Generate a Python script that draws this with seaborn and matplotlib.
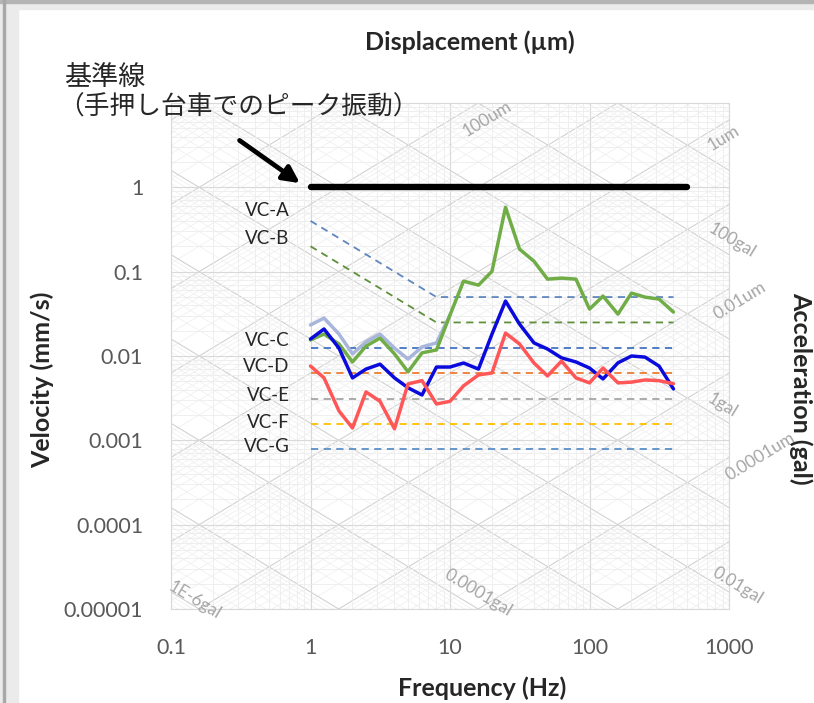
import numpy as np
import pandas as pd
import matplotlib.pyplot as plt
import seaborn as sns
from matplotlib.patches import Rectangle
from matplotlib.ticker import LogLocator, NullFormatter, FixedLocator, FixedFormatter

# 1/3 octave band centre frequencies (Hz)
freq = [1, 1.25, 1.6, 2, 2.5, 3.15, 4, 5, 6.3, 8, 10, 12.5, 16, 20, 25,
        31.5, 40, 50, 63, 80, 100, 125, 160, 200, 250, 315, 400]

# measured velocities (mm/s)
vel_green = [0.0155, 0.0182, 0.0139, 0.0085, 0.0131, 0.0163, 0.0106, 0.0065, 0.0109, 0.0118,
             0.0306, 0.0772, 0.0692, 0.101, 0.58, 0.185, 0.133, 0.0815, 0.0838, 0.0815,
             0.036, 0.0513, 0.0314, 0.0557, 0.0499, 0.0473, 0.0332]
vel_blue = [0.0159, 0.0209, 0.0124, 0.0055, 0.0070, 0.0080, 0.0055, 0.0042, 0.00345, 0.0074,
            0.0074, 0.00826, 0.0070, 0.0182, 0.0448, 0.0239, 0.0143, 0.0121, 0.0095, 0.0085,
            0.0072, 0.00535, 0.0083, 0.0100, 0.0097, 0.0076, 0.00407]
vel_red = [0.0076, 0.0055, 0.00223, 0.0014, 0.00375, 0.0029, 0.00137, 0.00467, 0.0051, 0.0027,
           0.0029, 0.00442, 0.00596, 0.0063, 0.0187, 0.0139, 0.00826, 0.0058, 0.0087, 0.0055,
           0.0048, 0.0072, 0.0048, 0.0049, 0.0052, 0.0051, 0.0047]
freq_light = [1, 1.25, 1.6, 2, 2.5, 3.15, 4, 5, 6.3, 8, 10]
vel_light = [0.0233, 0.0282, 0.0182, 0.0106, 0.0147, 0.0182, 0.0124, 0.0092, 0.0128, 0.0143, 0.0306]

# reference line (peak vibration of hand cart)
ref_freq = [1, 500]
ref_vel = [1, 1]

# VC criterion curves
vc_names = ["VC-A", "VC-B", "VC-C", "VC-D", "VC-E", "VC-F", "VC-G"]
vc_freq = [[1, 8, 400], [1, 8, 400], [1, 400], [1, 400], [1, 400], [1, 400], [1, 400]]
vc_vel = [[0.4, 0.05, 0.05], [0.2, 0.025, 0.025], [0.0125, 0.0125], [0.00625, 0.00625],
          [0.003125, 0.003125], [0.0015625, 0.0015625], [0.00078, 0.00078]]
vc_colors = ["#5F86BD", "#5E8F3C", "#4472C4", "#ED7D31", "#A5A5A5", "#FFC000", "#5B8FC9"]
vc_label_vel = [0.53, 0.25, 0.0152, 0.0075, 0.0034, 0.00163, 0.00085]

x_ticks = [0.1, 1, 10, 100, 1000]
x_ticklabels = ["0.1", "1", "10", "100", "1000"]
y_ticks = [1e-5, 1e-4, 1e-3, 1e-2, 1e-1, 1]
y_ticklabels = ["0.00001", "0.0001", "0.001", "0.01", "0.1", "1"]

# diagonal scale labels: text, frequency, velocity of label centre
disp_labels = [("100um", 18.4, 6.58), ("1um", 920, 3.81), ("0.01um", 1199, 0.0457),
               ("0.0001um", 1667, 6.45e-4)]
acc_labels = [("100gal", 1051, 0.235), ("1gal", 891, 0.00259), ("0.01gal", 1161, 1.9e-5),
              ("0.0001gal", 15.9, 1.57e-5), ("1E-6gal", 0.1486, 1.26e-5)]

sns.set_style("white")
plt.rcParams["font.family"] = ["Lato", "Noto Sans CJK JP", "DejaVu Sans"]

fig = plt.figure(figsize=(8.14, 7.03), dpi=100)
ax = fig.add_axes([171 / 814, 1 - 609 / 703, (729 - 171) / 814, (609 - 103) / 703])
ax.set_xscale("log")
ax.set_yscale("log")
ax.set_xlim(0.1, 1000)
ax.set_ylim(1e-5, 10)

# grid
for axis in (ax.xaxis, ax.yaxis):
    axis.set_minor_locator(LogLocator(base=10, subs=np.arange(2, 10), numticks=100))
    axis.set_minor_formatter(NullFormatter())
ax.grid(which="major", color="#D9D9D9", lw=0.8, zorder=0)
ax.grid(which="minor", color="#EDEDED", lw=0.6, zorder=0)
ax.set_axisbelow(True)
for s in ax.spines.values():
    s.set_color("#D9D9D9")
    s.set_linewidth(0.8)

# diagonal displacement / acceleration grid
f_ends = np.array([0.1, 1000.0])
for k in range(-10, 3):
    for m in range(1, 10):
        d = m * 10.0 ** k  # mm
        c, w = ("#D2D2D2", 0.8) if m == 1 else ("#EEEEEE", 0.5)
        ax.plot(f_ends, 2 * np.pi * f_ends * d, color=c, lw=w, zorder=0.5)
for k in range(-7, 6):
    for m in range(1, 10):
        a = m * 10.0 ** k  # mm/s^2
        c, w = ("#D2D2D2", 0.8) if m == 1 else ("#EEEEEE", 0.5)
        ax.plot(f_ends, a / (2 * np.pi * f_ends), color=c, lw=w, zorder=0.5)

# VC curves
for name, fx, vy, col, ly in zip(vc_names, vc_freq, vc_vel, vc_colors, vc_label_vel):
    sns.lineplot(x=fx, y=vy, color=col, lw=1.3, linestyle=(0, (4, 3)), ax=ax, zorder=2)
    ax.text(0.71, ly, name, ha="right", va="center", fontsize=13.5, color="#262626")

# measured data
df = pd.concat([
    pd.DataFrame({"freq": freq_light, "vel": vel_light, "series": "light"}),
    pd.DataFrame({"freq": freq, "vel": vel_green, "series": "green"}),
    pd.DataFrame({"freq": freq, "vel": vel_blue, "series": "blue"}),
    pd.DataFrame({"freq": freq, "vel": vel_red, "series": "red"}),
])
palette = {"light": "#A7B6DA", "green": "#70AD47", "blue": "#0A0ADC", "red": "#FF5757"}
sns.lineplot(data=df, x="freq", y="vel", hue="series", palette=palette,
             hue_order=["light", "green", "blue", "red"], estimator=None,
             lw=2.5, legend=False, ax=ax, zorder=3)

sns.lineplot(x=ref_freq, y=ref_vel, color="black", lw=4.6, ax=ax, zorder=4,
             solid_capstyle="round")

ax.xaxis.set_major_locator(FixedLocator(x_ticks))
ax.xaxis.set_major_formatter(FixedFormatter(x_ticklabels))
ax.yaxis.set_major_locator(FixedLocator(y_ticks))
ax.yaxis.set_major_formatter(FixedFormatter(y_ticklabels))
ax.tick_params(which="both", length=0, labelsize=15.5, labelcolor="#595959")
ax.tick_params(axis="x", pad=21)
ax.tick_params(axis="y", pad=20)
ax.set_xlabel("")
ax.set_ylabel("")

# diagonal labels
p0 = ax.transData.transform((1, 1))
p1 = ax.transData.transform((10, 10))
ang = np.degrees(np.arctan2(p1[1] - p0[1], p1[0] - p0[0]))
for t, fx, vy in disp_labels:
    ax.text(fx, vy, t, rotation=ang, ha="center", va="center", fontsize=12.5,
            color="#A6A6A6", clip_on=False, rotation_mode="anchor")
for t, fx, vy in acc_labels:
    ax.text(fx, vy, t, rotation=-ang, ha="center", va="center", fontsize=12.5,
            color="#A6A6A6", clip_on=False, rotation_mode="anchor")

# annotation
fig.text(64 / 814, 1 - 77 / 703, "基準線", fontsize=19.5, va="center", ha="left",
         family=["Noto Sans CJK JP"])
fig.text(58 / 814, 1 - 108 / 703, "（手押し台車でのピーク振動）", fontsize=18.5, va="center",
         ha="left", family=["Noto Sans CJK JP"])
ax.annotate("", xy=(0.84, 1.12), xytext=(0.31, 3.6), annotation_clip=False,
            arrowprops=dict(arrowstyle="-|>,head_width=0.5,head_length=1.0", lw=3.4,
                            color="black", shrinkA=0, shrinkB=0))

# axis titles
fig.text(470 / 814, 1 - 42 / 703, "Displacement (µm)", fontsize=18, fontweight="bold",
         ha="center", va="center")
fig.text(482 / 814, 1 - 688 / 703, "Frequency (Hz)", fontsize=18, fontweight="bold",
         ha="center", va="center")
fig.text(42 / 814, 1 - 380 / 703, "Velocity (mm/s)", fontsize=18, fontweight="bold",
         ha="center", va="center", rotation=90)
fig.text(801 / 814, 1 - 388 / 703, "Acceleration (gal)", fontsize=18, fontweight="bold",
         ha="center", va="center", rotation=-90)

# screenshot frame
fig.patches.append(Rectangle((0, 0), 18 / 814, 1, transform=fig.transFigure,
                             color="#EBEBEB", zorder=-5))
fig.patches.append(Rectangle((0, 1 - 9 / 703), 1, 9 / 703, transform=fig.transFigure,
                             color="#EBEBEB", zorder=-5))
fig.patches.append(Rectangle((0, 1 - 3 / 703), 1, 3 / 703, transform=fig.transFigure,
                             color="#B4B4B4", zorder=-4))
fig.patches.append(Rectangle((3 / 814, 0), 2 / 814, 1, transform=fig.transFigure,
                             color="#A8A8A8", zorder=-4))

fig.savefig("out.png", dpi=100)
